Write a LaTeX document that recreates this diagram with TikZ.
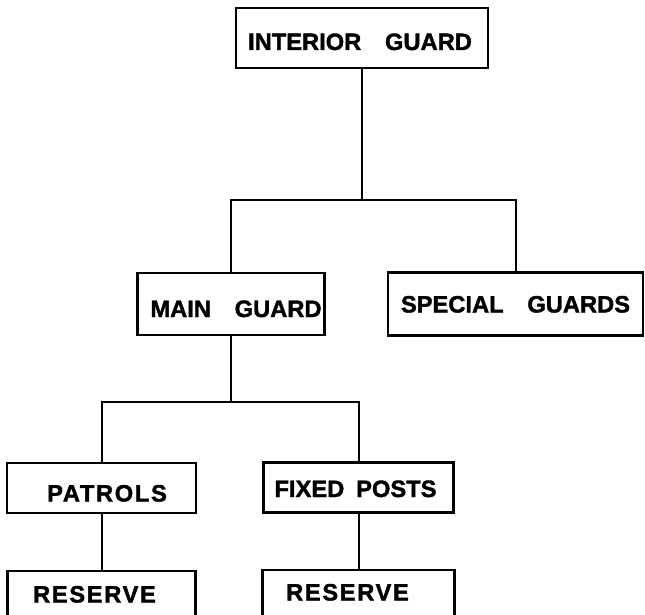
\documentclass[tikz,border=0pt]{standalone}
\usepackage{fontspec}
\setmainfont{Liberation Sans}[BoldFeatures={FakeBold=1.6}]
\newcommand{\boxlbl}[3]{\hspace*{#1}\raisebox{#2}[17pt][0pt]{#3}\hspace*{-#1}}
\newcommand{\wide}{\addfontfeature{LetterSpace=7}}

\begin{document}
\begin{tikzpicture}[x=1pt, y=-1pt,
                    box/.style args = {#1/#2}{
                              draw, line width=2.4pt, inner sep=0pt,
                              minimum width=#1, minimum height=#2,
                              font=\bfseries\fontsize{23.7}{24}\selectfont},
                    link/.style = {line width=2pt}
               ]
               \useasboundingbox (0,0) rectangle (645,615);
               % top
               \node[box=252pt/60pt] (IG) at (362,38)
                    {\boxlbl{-2pt}{-3.5pt}{INTERIOR\hspace{1em}GUARD}};
               \coordinate (b1) at (362,200);
               \draw[link] (IG) -- (b1);
               % second level
               \node[box=187pt/62pt] (MG) at (231,304)
                    {\boxlbl{5pt}{-4.5pt}{MAIN\hspace{1em}GUARD}};
               \node[box=255pt/63pt] (SG) at (515.5,304)
                    {\boxlbl{0pt}{0pt}{SPECIAL\hspace{1em}GUARDS}};
               \draw[link] (MG) |- (b1) -| (SG);
               % third level
               \coordinate (b2) at (231,402);
               \draw[link] (MG) -- (b2);
               \node[box=189pt/50pt] (PA) at (101.5,488)
                    {\boxlbl{5.5pt}{-5pt}{\wide PATROLS}};
               \node[box=190pt/50pt] (FP) at (358.5,487.5)
                    {\boxlbl{-3pt}{-1pt}{FIXED\hspace{0.5em}POSTS}};
               \draw[link] (PA) |- (b2) -| (FP);
               % reserves, cut at the bottom
               \node[box=188pt/52pt] (RL) at (101.5,597)
                    {\boxlbl{-7pt}{3pt}{\wide RESERVE}};
               \node[box=192pt/52pt] (RR) at (358.5,596)
                    {\boxlbl{-11pt}{4pt}{\wide RESERVE}};
               \draw[link] (PA) -- (RL);
               \draw[link] (FP) -- (RR);
\end{tikzpicture}
\end{document}
